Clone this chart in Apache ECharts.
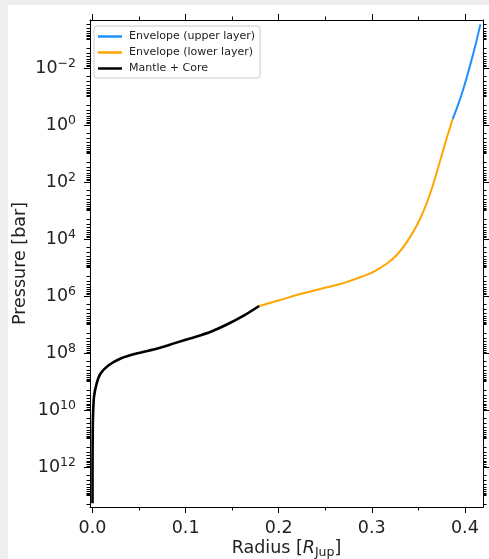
<!DOCTYPE html>
<html>
<head>
<meta charset="utf-8">
<script src="https://cdn.jsdelivr.net/npm/echarts@6/dist/echarts.min.js"></script>
<style>
  html, body { margin: 0; padding: 0; background: #eeeeee; width: 489px; height: 559px; overflow: hidden; }
  #chart { position: absolute; left: 8px; top: 5px; width: 481px; height: 554px; background: #ffffff; }
</style>
</head>
<body>
<div id="chart"></div>
<script>
// Interior structure profile: radius in Jupiter radii, pressure as log10(P / bar)
const upperRadius      = [0.3869, 0.3923, 0.3987, 0.4052, 0.4113, 0.4167];
const upperPressureExp = [-0.21, -0.67, -1.30, -2.04, -2.79, -3.53];

const lowerRadius      = [0.1790, 0.2016, 0.2231, 0.2446, 0.2661, 0.2841, 0.3019, 0.3163,
                          0.3271, 0.3378, 0.3486, 0.3575, 0.3647, 0.3701, 0.3755, 0.3809, 0.3869];
const lowerPressureExp = [6.35, 6.14, 5.93, 5.75, 5.58, 5.38, 5.15, 4.86,
                          4.55, 4.10, 3.51, 2.87, 2.21, 1.63, 1.02, 0.42, -0.21];

const coreRadius       = [0.0000, 0.0000, 0.0002, 0.0005, 0.0016, 0.0045, 0.0088, 0.0177, 0.0303,
                          0.0482, 0.0697, 0.0876, 0.1056, 0.1271, 0.1449, 0.1629, 0.1790];
const corePressureExp  = [13.27, 12.10, 10.94, 10.24, 9.53, 9.06, 8.71, 8.42, 8.19,
                          8.01, 7.84, 7.66, 7.48, 7.25, 6.99, 6.68, 6.35];

const seriesNames = ['Envelope (upper layer)', 'Envelope (lower layer)', 'Mantle + Core'];

// Tick positions and labels
const xMajorTicks  = [0.0, 0.1, 0.2, 0.3, 0.4];
const xMinorTicks  = [0.05, 0.15, 0.25, 0.35];
const yMajorExp    = [-2, 0, 2, 4, 6, 8, 10, 12];

// Minor log ticks: every 1..9 x 10^n
const yMinorExp = [];
for (let n = -4; n <= 13; n++) {
  for (let k = 1; k <= 9; k++) yMinorExp.push(n + Math.log10(k));
}

const FONT = 'DejaVu Sans';
const TXT = '#222222';
const X_MIN = -0.0027, X_MAX = 0.4195;
const Y_TOP = -3.684, Y_BOTTOM = 13.4;

function pairs(xs, ys) { return xs.map((x, i) => [x, ys[i]]); }

function supLabel(e) {
  const s = e < 0 ? '\u2212' + (-e) : String(e);
  return '{b|10}{s|' + s + '}';
}

const frame = { show: true, onZero: false, lineStyle: { color: '#000', width: 1 } };
const noLine = { show: false, onZero: false };

function xAx(pos, ticks, len, withLabels, drawLine) {
  return {
    type: 'value', position: pos, min: X_MIN, max: X_MAX,
    splitLine: { show: false },
    axisLine: drawLine ? frame : noLine,
    axisTick: { show: true, customValues: ticks, length: len, lineStyle: { color: '#000', width: 1 } },
    axisLabel: withLabels ? {
      show: true, customValues: ticks, margin: 12,
      formatter: v => v.toFixed(1),
      fontFamily: FONT, fontSize: 17.5, color: TXT
    } : { show: false }
  };
}

function yAx(pos, ticks, len, withLabels, drawLine) {
  return {
    type: 'value', position: pos, inverse: true, min: Y_TOP, max: Y_BOTTOM,
    splitLine: { show: false },
    axisLine: drawLine ? frame : noLine,
    axisTick: { show: true, customValues: ticks, length: len, lineStyle: { color: '#000', width: 1 } },
    axisLabel: withLabels ? {
      show: true, customValues: ticks, margin: 14,
      formatter: v => supLabel(Math.round(v)),
      rich: {
        b: { fontFamily: FONT, fontSize: 17.5, lineHeight: 22, color: TXT },
        s: { fontFamily: FONT, fontSize: 12.5, lineHeight: 12, color: TXT, verticalAlign: 'top' }
      }
    } : { show: false }
  };
}

const chart = echarts.init(document.getElementById('chart'), null, { renderer: 'canvas' });

const xAxes = [
  xAx('bottom', xMajorTicks, 6, true, true),
  xAx('bottom', xMinorTicks, 3.5, false, false),
  xAx('top', xMajorTicks, 6, false, true),
  xAx('top', xMinorTicks, 3.5, false, false)
];
xAxes[0].name = 'Radius [{i|R}{sub|Jup}]';
xAxes[0].nameLocation = 'middle';
xAxes[0].nameGap = 30;
xAxes[0].nameMoveOverlap = false;
xAxes[0].nameTextStyle = {
  fontFamily: FONT, fontSize: 17.5, color: TXT,
  rich: {
    i: { fontFamily: FONT, fontSize: 17.5, fontStyle: 'italic', color: TXT, lineHeight: 22 },
    sub: { fontFamily: FONT, fontSize: 12.5, color: TXT, verticalAlign: 'bottom', lineHeight: 12 }
  }
};

const yAxes = [
  yAx('left', yMajorExp, 6, true, true),
  yAx('left', yMinorExp, 3.5, false, false),
  yAx('right', yMajorExp, 6, false, true),
  yAx('right', yMinorExp, 3.5, false, false)
];
yAxes[0].name = 'Pressure [bar]';
yAxes[0].nameLocation = 'middle';
yAxes[0].nameGap = 61;
yAxes[0].nameMoveOverlap = false;
yAxes[0].nameTextStyle = { fontFamily: FONT, fontSize: 17.5, color: TXT };

chart.setOption({
  animation: false,
  grid: { left: 82, top: 15, right: 6, bottom: 52, containLabel: false, outerBoundsMode: 'none' },
  xAxis: xAxes,
  yAxis: yAxes,
  legend: {
    orient: 'vertical', left: 86, top: 21,
    data: seriesNames,
    icon: 'rect', itemWidth: 24, itemHeight: 2.5, itemGap: 5,
    padding: [5, 5, 4, 4],
    backgroundColor: '#ffffff', borderColor: '#cccccc', borderWidth: 1, borderRadius: 3,
    textStyle: { fontFamily: FONT, fontSize: 11, color: TXT, padding: [0, 0, 0, 2] }
  },
  series: [
    {
      name: seriesNames[0], type: 'line', data: pairs(upperRadius, upperPressureExp),
      showSymbol: false, smooth: 0.25, color: '#1e90ff', lineStyle: { width: 2 }, z: 3
    },
    {
      name: seriesNames[1], type: 'line', data: pairs(lowerRadius, lowerPressureExp),
      showSymbol: false, smooth: 0.25, color: '#ffa500', lineStyle: { width: 2 }, z: 3
    },
    {
      name: seriesNames[2], type: 'line', data: pairs(coreRadius, corePressureExp),
      showSymbol: false, smooth: 0.25, color: '#000000', lineStyle: { width: 2.6 }, z: 3
    }
  ]
});
</script>
</body>
</html>
